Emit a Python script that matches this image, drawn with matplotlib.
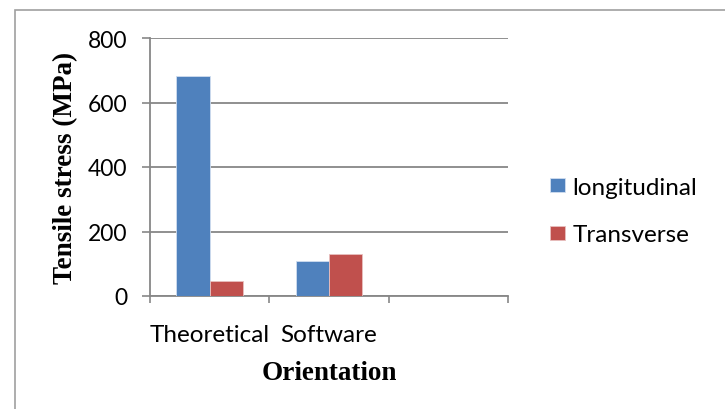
import matplotlib.pyplot as plt
from matplotlib.patches import Rectangle
import numpy as np

categories = ["Theoretical", "Software", ""]
longitudinal = [683, 110, 0]
transverse = [45, 129, 0]
series_names = ["longitudinal", "Transverse"]
y_ticks = [0, 200, 400, 600, 800]

BLUE = "#4F81BD"
RED = "#C0504D"
GREY = "#878787"
SANS = ["Lato", "DejaVu Sans"]
SERIF = ["Liberation Serif", "DejaVu Serif"]

fig = plt.figure(figsize=(7.25, 4.1), dpi=100)
ax = fig.add_axes([150 / 725, 1 - 297 / 410, 358 / 725, 258 / 410])

x = np.arange(len(categories))
w = 0.28
b1 = ax.bar(x - w / 2, longitudinal, w, color=BLUE, edgecolor="#d0def0", linewidth=0.6, zorder=3)
b2 = ax.bar(x + w / 2, transverse, w, color=RED, edgecolor="#e8c0bf", linewidth=0.6, zorder=3)

ax.set_xlim(-0.5, len(categories) - 0.5)
ax.set_ylim(0, 800)
ax.set_yticks(y_ticks)
ax.set_yticklabels([str(v) for v in y_ticks], family=SANS, fontsize=16.5)
ax.set_xticks(x)
ax.set_xticklabels(categories, family=SANS, fontsize=17.5)
ax.set_xticks(np.arange(len(categories) + 1) - 0.5, minor=True)

ax.tick_params(axis="x", which="major", length=0, pad=20)
ax.tick_params(axis="x", which="minor", length=5, color=GREY, width=1.2)
ax.tick_params(axis="y", length=5.5, color=GREY, width=1.2, pad=11)

ax.grid(axis="y", color=GREY, linewidth=1.3, zorder=0)
for s in ["top", "right"]:
    ax.spines[s].set_visible(False)
for s in ["left", "bottom"]:
    ax.spines[s].set_color(GREY)
    ax.spines[s].set_linewidth(1.3)

ax.set_ylabel("Tensile stress (MPa)", family=SERIF, fontweight="bold", fontsize=19.5)
ax.yaxis.set_label_coords(-0.2, 0.5)
ax.set_xlabel("Orientation", family=SERIF, fontweight="bold", fontsize=19.5)
ax.xaxis.set_label_coords(0.5, -0.25)

ax.legend([b1, b2], series_names, loc="center left", bbox_to_anchor=(528 / 725, 1 - 212 / 410),
          bbox_transform=fig.transFigure, frameon=False, prop={"family": SANS, "size": 17.5},
          handlelength=0.62, handleheight=0.5, handletextpad=0.3, labelspacing=1.1)

# outer chart frame
fig.patches.append(Rectangle((15 / 725, -0.1), 1.0, 1 - 11 / 410 + 0.1, transform=fig.transFigure,
                             fill=False, edgecolor="#a0a0a0", linewidth=1.2))

fig.savefig("out.png", dpi=100)
